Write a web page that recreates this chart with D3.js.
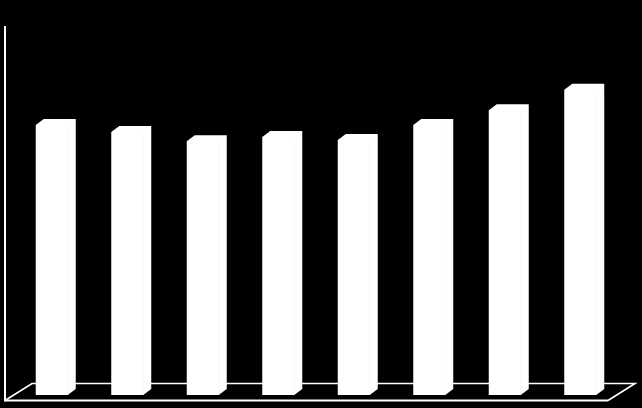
<!DOCTYPE html>
<html>
<head>
<meta charset="utf-8">
<script src="https://cdn.jsdelivr.net/npm/d3@7"></script>
<style>
  html, body { margin: 0; padding: 0; background: #000; }
  svg { display: block; }
</style>
</head>
<body>
<div id="chart"></div>
<script>
// dados (sem rótulos visíveis)
const categorias = ["1", "2", "3", "4", "5", "6", "7", "8"];
const valores = [73.2, 71.3, 68.8, 69.9, 69.1, 73.2, 77.2, 82.7];

const width = 642;
const height = 408;

// profundidade 3D das barras e do piso
const depthX = 8, depthY = 6;
const floorDX = 27, floorDY = 17;
const floorFront = 400.5;
const floorLeft = 5, floorRight = 608;

const x = d3.scaleBand()
    .domain(categorias)
    .range([18, 622])
    .paddingInner(0.47)
    .paddingOuter(0.235);

const y = d3.scaleLinear().domain([0, 100]).range([395, 26]);

const svg = d3.select("#chart")
    .append("svg")
    .attr("width", width)
    .attr("height", height)
    .style("background", "#000");

// piso (paralelogramo)
svg.append("path")
    .attr("d", `M${floorLeft},${floorFront} L${floorLeft + floorDX},${floorFront - floorDY}
                L${floorRight + floorDX},${floorFront - floorDY} L${floorRight},${floorFront}`)
    .attr("fill", "none")
    .attr("stroke", "#fff")
    .attr("stroke-width", 1.6);

svg.append("line")
    .attr("x1", floorLeft).attr("x2", floorRight)
    .attr("y1", floorFront).attr("y2", floorFront)
    .attr("stroke", "#fff")
    .attr("stroke-width", 2);

// parede (eixo vertical)
svg.append("line")
    .attr("x1", floorLeft).attr("x2", floorLeft)
    .attr("y1", y(100)).attr("y2", floorFront + 1)
    .attr("stroke", "#fff")
    .attr("stroke-width", 2);

const frontW = x.bandwidth() - depthX;
const barras = svg.selectAll(".barra")
    .data(valores)
    .enter()
    .append("g")
    .attr("class", "barra");

// contorno da barra inteira (frente + topo + lado) num só polígono
barras.append("path")
    .attr("d", (d, i) => {
        const x0 = x(categorias[i]);
        const x1 = x0 + frontW;
        const yt = y(d), yb = y(0);
        return `M${x0},${yb} L${x0},${yt} L${x0 + depthX},${yt - depthY}
                L${x1 + depthX},${yt - depthY} L${x1 + depthX},${yb - depthY} L${x1},${yb} Z`;
    })
    .attr("fill", "#fff");

// aresta quase invisível entre frente e lado
barras.append("line")
    .attr("x1", (d, i) => x(categorias[i]) + frontW)
    .attr("x2", (d, i) => x(categorias[i]) + frontW)
    .attr("y1", d => y(d))
    .attr("y2", y(0))
    .attr("stroke", "#f2f2f2")
    .attr("stroke-width", 0.5);
</script>
</body>
</html>
